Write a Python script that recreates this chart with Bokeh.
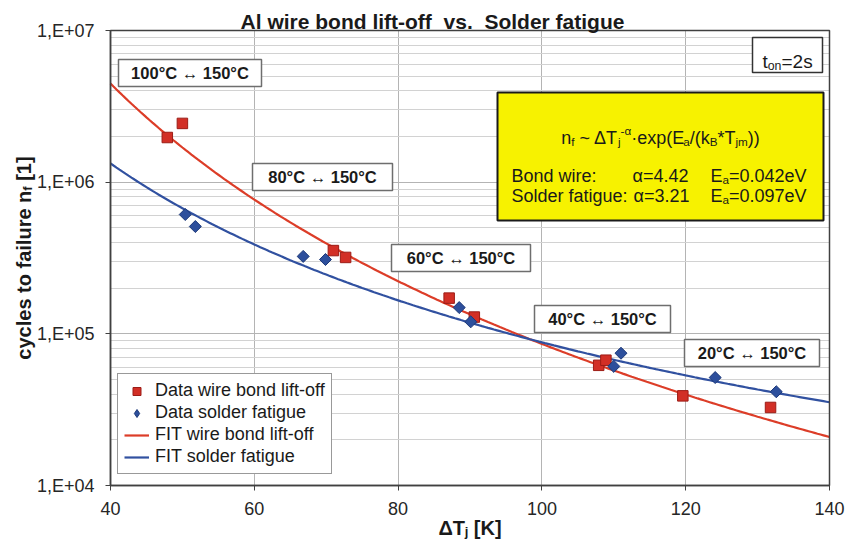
import math
import numpy as np
from bokeh.plotting import figure
from bokeh.models import Range1d, FixedTicker, Label, BoxAnnotation, Legend, LegendItem, Grid
from bokeh.embed import file_html
from bokeh.resources import INLINE

# ---------------- data ----------------
wire_dT = [47.9, 50.0, 71.0, 72.7, 87.1, 90.6, 107.9, 108.9, 119.6, 131.8]
wire_nf = [1.97e6, 2.44e6, 3.54e5, 3.19e5, 1.72e5, 1.29e5, 6.2e4, 6.7e4, 3.9e4, 3.27e4]

solder_dT = [50.4, 51.8, 66.8, 69.9, 88.5, 90.1, 110.0, 111.0, 124.1, 132.6]
solder_nf = [6.12e5, 5.1e5, 3.24e5, 3.09e5, 1.49e5, 1.2e5, 6.1e4, 7.45e4, 5.15e4, 4.15e4]

# fit model n_f ~ dT^-alpha * exp(Ea/(kB*Tjm)), Tmax = 150 degC
fit_names = ["FIT wire bond lift-off", "FIT solder fatigue"]
fit_alpha = [4.42, 3.21]
fit_Ea = [0.042, 0.097]          # eV
fit_nf_at_40K = [4.47e6, 1.33e6]  # curve value read at dT = 40 K
T_max_C = 150.0

temp_labels = ["100°C ↔ 150°C", "80°C ↔ 150°C", "60°C ↔ 150°C", "40°C ↔ 150°C", "20°C ↔ 150°C"]

x_min, x_max = 40, 140
y_min, y_max = 1e4, 1e7
x_ticks = [40, 60, 80, 100, 120, 140]
y_ticks = [10**4, 10**5, 10**6, 10**7]
y_tick_labels = ["1,E+04", "1,E+05", "1,E+06", "1,E+07"]

# ---------------- geometry helpers (pixel -> data) ----------------
W, H = 850, 543
FL, FR, FT, FB = 110, 829, 30, 485   # plot-area edges in pixels


def dx(px):
    return x_min + (px - FL) * (x_max - x_min) / (FR - FL)


def dy(py):
    return 10 ** (math.log10(y_min) + (FB - py) * (math.log10(y_max) - math.log10(y_min)) / (FB - FT))


kB = 8.617e-5
dT = np.linspace(x_min, x_max, 241)


def fit_curve(a, Ea, n40):
    Tjm = 273.15 + T_max_C - dT / 2
    g = dT ** (-a) * np.exp(Ea / (kB * Tjm))
    g40 = 40.0 ** (-a) * np.exp(Ea / (kB * (273.15 + T_max_C - 20)))
    return n40 * g / g40


p = figure(width=W, height=H, x_range=Range1d(dx(0), dx(W)), y_range=Range1d(dy(H), dy(0)),
           y_axis_type="log", output_backend="svg", toolbar_location=None,
           min_border=0, min_border_left=0, min_border_right=0, min_border_top=0,
           min_border_bottom=0, background_fill_color="white",
           border_fill_color="white", title=None)
p.outline_line_color = None

# axes fixed at the edges of the plot area
p.xaxis.fixed_location = y_min
p.yaxis.fixed_location = x_min
p.xaxis.bounds = (x_min, x_max)
p.yaxis.bounds = (y_min, y_max)
xt = FixedTicker(ticks=x_ticks)
p.xaxis.ticker = xt
p.xgrid[0].ticker = xt
yminor = [m * 10 ** e for e in (4, 5, 6) for m in range(2, 10)]
yt = FixedTicker(ticks=y_ticks, minor_ticks=yminor)
p.yaxis.ticker = yt
p.ygrid[0].ticker = yt
p.yaxis.major_label_overrides = {int(v): s for v, s in zip(y_ticks, y_tick_labels)}

for ax in p.axis:
    ax.axis_line_color = "#404040"
    ax.axis_line_width = 1.5
    ax.major_tick_line_color = "#404040"
    ax.major_tick_in = 0
    ax.major_tick_out = 5
    ax.minor_tick_line_color = None
    ax.major_label_text_font = "Liberation Sans"
    ax.major_label_text_font_size = "18px"
    ax.major_label_text_color = "#262626"
    ax.major_label_standoff = 11

grid_major = "#b4b4b4"
grid_minor = "#d2d2d2"
if "cross_bounds" in Grid.properties():
    p.xgrid.bounds = (x_min, x_max)
    p.xgrid.cross_bounds = (y_min, y_max)
    p.ygrid.bounds = (y_min, y_max)
    p.ygrid.cross_bounds = (x_min, x_max)
    p.xgrid.grid_line_color = grid_major
    p.ygrid.grid_line_color = grid_major
    p.ygrid.minor_grid_line_color = grid_minor
else:
    p.xgrid.grid_line_color = None
    p.ygrid.grid_line_color = None
    gx = x_ticks[1:-1]
    p.segment(gx, [y_min] * len(gx), gx, [y_max] * len(gx), line_color=grid_major, line_width=1)
    p.segment([x_min] * len(yminor), yminor, [x_max] * len(yminor), yminor,
              line_color=grid_minor, line_width=1)
    gy = y_ticks[1:-1]
    p.segment([x_min] * len(gy), gy, [x_max] * len(gy), gy, line_color=grid_major, line_width=1)

fit_colors = ["#dc3d28", "#3151a0"]
curves = []
for name, a, Ea, n40, c in zip(fit_names, fit_alpha, fit_Ea, fit_nf_at_40K, fit_colors):
    curves.append(p.line(dT, fit_curve(a, Ea, n40), line_color=c, line_width=2.2))

wire_style = dict(fill_color="#d22f26", line_color="#9c1c16", line_width=1)
solder_style = dict(fill_color="#2d4f9c", line_color="#1c3878", line_width=1)
r_w = p.scatter(wire_dT, wire_nf, marker="square", size=10.5, **wire_style)
r_s = p.scatter(solder_dT, solder_nf, marker="square", angle=math.pi / 4, size=8.5, **solder_style)
# hidden twin of the solder points, drawn as a diamond only in the legend
r_s_leg = p.scatter(solder_dT, solder_nf, marker="diamond", size=13, visible=False, **solder_style)

# plot-area border
p.add_layout(BoxAnnotation(left=x_min, right=x_max, bottom=y_min, top=y_max, fill_alpha=0,
                           line_color="#404040", line_alpha=1, line_width=1.5))

legend = Legend(items=[
    LegendItem(label="Data wire bond lift-off", renderers=[r_w]),
    LegendItem(label="Data solder fatigue", renderers=[r_s_leg]),
    LegendItem(label=fit_names[0], renderers=[curves[0]]),
    LegendItem(label=fit_names[1], renderers=[curves[1]]),
], location=(117, H - 474))
legend.label_text_font = "Liberation Sans"
legend.label_text_font_size = "18px"
legend.label_text_color = "#1a1a1a"
legend.label_height = 20
legend.glyph_height = 20
legend.glyph_width = 25
legend.label_standoff = 6
legend.spacing = 1
legend.padding = 6
legend.margin = 0
legend.border_line_color = "#333333"
legend.border_line_width = 1.5
legend.background_fill_color = "white"
legend.background_fill_alpha = 1
p.add_layout(legend)

# ---------------- text helpers ----------------
REG = {' ': 278, '(': 333, ')': 333, '*': 389, '+': 584, ',': 278, '-': 333, '.': 278, '/': 278,
       ':': 278, '=': 584, '~': 584, '[': 278, ']': 278, '·': 278, 'Δ': 668, 'α': 578, '°': 400,
       'A': 667, 'B': 667, 'C': 722, 'D': 722, 'E': 667, 'F': 611, 'I': 278, 'K': 667, 'S': 667,
       'T': 611, 'V': 667, 'a': 556, 'b': 556, 'c': 500, 'd': 556, 'e': 556, 'f': 278, 'g': 556,
       'h': 556, 'i': 222, 'j': 222, 'k': 500, 'l': 222, 'm': 833, 'n': 556, 'o': 556, 'p': 556,
       'r': 333, 's': 500, 't': 278, 'u': 556, 'v': 500, 'w': 722, 'x': 500, 'y': 500}
BOLD = {' ': 278, '(': 333, ')': 333, '-': 333, '.': 278, ':': 333, '[': 333, ']': 333, 'Δ': 700,
        'A': 722, 'K': 722, 'S': 667, 'T': 611, 'a': 556, 'b': 611, 'c': 556, 'd': 611, 'e': 556,
        'f': 333, 'g': 611, 'i': 278, 'j': 278, 'l': 278, 'n': 611, 'o': 611, 'r': 389, 's': 556,
        't': 333, 'u': 611, 'v': 556, 'w': 778, 'y': 556}


def tw(s, size, bold):
    t = BOLD if bold else REG
    return sum(t.get(ch, 556) for ch in s) / 1000.0 * size


def rich(pieces, px, py, size, bold=False, align="left", vertical=False, color="#1a1a1a"):
    scale = 0.65
    sizes = [size * scale if k else size for _, k in pieces]
    widths = [tw(t, s, bold) for (t, _), s in zip(pieces, sizes)]
    total = sum(widths)
    off = -total / 2 if align == "center" else 0.0
    for (txt, kind), s, w in zip(pieces, sizes, widths):
        stripped = txt.lstrip(" ")
        lead = tw(txt[:len(txt) - len(stripped)], s, bold)
        shift = {"": 0.0, "sub": -0.22 * size, "sup": 0.38 * size}[kind]
        along = off + lead
        if vertical:
            xo, yo, ang = -shift, along, math.pi / 2
        else:
            xo, yo, ang = along, shift, 0.0
        p.add_layout(Label(x=dx(px), y=dy(py), x_offset=xo, y_offset=yo, text=stripped,
                           angle=ang, text_font="Liberation Sans", text_font_size=f"{s:.1f}px",
                           text_font_style="bold" if bold else "normal", text_color=color,
                           text_align="left", text_baseline="alphabetic"))
        off += w


# title and axis titles
rich([("Al wire bond lift-off", ""), ("  vs.", ""), ("  Solder fatigue", "")], 432, 21, 21,
     bold=True, align="center")
rich([("ΔT", ""), ("j", "sub"), (" [K]", "")], 469.5, 527, 20, bold=True, align="center")
rich([("cycles to failure n", ""), ("f", "sub"), (" [1]", "")], 23, 257.5, 20, bold=True,
     align="center", vertical=True)

# temperature swing labels (boxes in pixel coords: left, top, right, bottom)
temp_boxes = [(118, 59, 261, 86), (252, 163, 392, 190), (391, 244, 530, 271),
              (534, 305, 670, 332), (684, 339, 819, 366)]
for txt, (l, t, r, b) in zip(temp_labels, temp_boxes):
    p.add_layout(BoxAnnotation(left=dx(l), right=dx(r), top=dy(t), bottom=dy(b),
                               fill_color="white", fill_alpha=1, line_color="#6e6e6e",
                               line_alpha=1, line_width=1.5))
    p.add_layout(Label(x=dx((l + r) / 2), y=dy((t + b) / 2), text=txt, text_align="center",
                       text_baseline="middle", text_font="Liberation Sans",
                       text_font_size="16.5px", text_font_style="bold", text_color="#1a1a1a"))

# t_on box
p.add_layout(BoxAnnotation(left=dx(752), right=dx(822), top=dy(37), bottom=dy(72),
                           fill_color="white", fill_alpha=1, line_color="#333333",
                           line_alpha=1, line_width=1.5))
rich([("t", ""), ("on", "sub"), ("=2s", "")], 762, 61, 19)

# yellow formula box
p.add_layout(BoxAnnotation(left=dx(497), right=dx(823), top=dy(92), bottom=dy(220),
                           fill_color="#f7f200", fill_alpha=1, line_color="#1a1a1a",
                           line_alpha=1, line_width=2))
rich([("n", ""), ("f", "sub"), (" ~ ΔT", ""), ("j", "sub"), ("-α", "sup"), ("·exp(E", ""),
      ("a", "sub"), ("/(k", ""), ("B", "sub"), ("*T", ""), ("jm", "sub"), ("))", "")],
     660, 137, 18, align="center")
rich([("Bond wire:", "")], 511, 175, 18)
rich([("α=" + f"{fit_alpha[0]:.2f}", "")], 632, 175, 18)
rich([("E", ""), ("a", "sub"), ("=" + f"{fit_Ea[0]:.3f}" + "eV", "")], 710, 175, 18)
rich([("Solder fatigue:", "")], 511, 195, 18)
rich([("α=" + f"{fit_alpha[1]:.2f}", "")], 633, 195, 18)
rich([("E", ""), ("a", "sub"), ("=" + f"{fit_Ea[1]:.3f}" + "eV", "")], 710, 195, 18)

open("out.html", "w").write(file_html(p, INLINE))
